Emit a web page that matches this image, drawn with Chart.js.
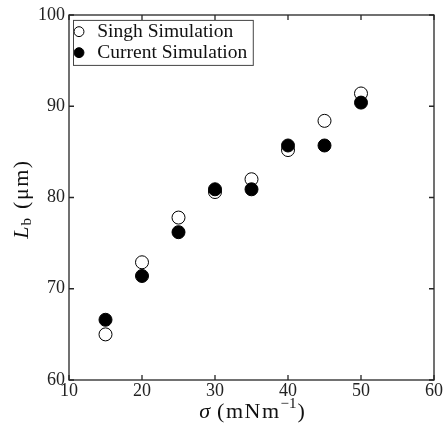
<!DOCTYPE html>
<html>
<head>
<meta charset="utf-8">
<script src="https://cdn.jsdelivr.net/npm/chart.js@4"></script>
<style>
html, body { margin: 0; padding: 0; background: #fff; }
</style>
</head>
<body>
<canvas id="chart" width="444" height="431"></canvas>
<script>
'use strict'

// surface tension (x)
const sigma = [15, 20, 25, 30, 35, 40, 45, 50];
// Singh simulation Lb
const singhLb = [65.0, 72.9, 77.8, 80.6, 82.0, 85.2, 88.4, 91.4];
// current simulation Lb
const currentLb = [66.6, 71.4, 76.2, 80.9, 80.9, 85.7, 85.7, 90.4];
// tick labels
const xTicks = [10, 20, 30, 40, 50, 60];
const yTicks = [60, 70, 80, 90, 100];

const serif = '"Liberation Serif", "DejaVu Serif", serif';
const axisColor = '#262626';

function toPoints(ys){
	return sigma.map((x, i) => ({ x: x, y: ys[i] }));
}

// box + inward ticks on all four sides
const frame = {
	id: 'frame',
	afterDraw(chart){
		const ctx = chart.ctx;
		const a = chart.chartArea;
		const xs = chart.scales.x;
		const ys = chart.scales.y;
		ctx.save();
		ctx.strokeStyle = axisColor;
		ctx.lineWidth = 1.3;
		ctx.strokeRect(a.left, a.top, a.right - a.left, a.bottom - a.top);
		ctx.beginPath();
		xTicks.forEach((v) => {
			const px = xs.getPixelForValue(v);
			ctx.moveTo(px, a.bottom); ctx.lineTo(px, a.bottom - 5);
			ctx.moveTo(px, a.top); ctx.lineTo(px, a.top + 5);
		});
		yTicks.forEach((v) => {
			const py = ys.getPixelForValue(v);
			ctx.moveTo(a.left, py); ctx.lineTo(a.left + 5, py);
			ctx.moveTo(a.right, py); ctx.lineTo(a.right - 5, py);
		});
		ctx.stroke();

		// legend border
		const boxes = chart.legend.legendHitBoxes;
		if(boxes && boxes.length){
			let l = Infinity, t = Infinity, r = -Infinity, b = -Infinity;
			boxes.forEach((h) => {
				l = Math.min(l, h.left); t = Math.min(t, h.top);
				r = Math.max(r, h.left + h.width); b = Math.max(b, h.top + h.height);
			});
			ctx.lineWidth = 1;
			ctx.strokeStyle = '#444';
			ctx.strokeRect(l + 3, t - 1.5, r - l + 3, b - t + 4.5);
		}
		ctx.restore();
	}
};

// draw a row of text pieces centred on (cx, cy)
function drawParts(ctx, parts, cx, cy){
	let w = 0;
	parts.forEach((p) => {
		ctx.font = p.f;
		ctx.letterSpacing = (p.ls || 0) + 'px';
		p.w = ctx.measureText(p.t).width + (p.gap || 0);
		w += p.w;
	});
	let x = cx - w / 2;
	parts.forEach((p) => {
		ctx.font = p.f;
		ctx.letterSpacing = (p.ls || 0) + 'px';
		ctx.fillText(p.t, x + (p.gap || 0), cy + p.dy);
		x += p.w;
	});
	ctx.letterSpacing = '0px';
}

// axis titles with sub/superscripts
const titles = {
	id: 'titles',
	afterDraw(chart){
		const ctx = chart.ctx;
		ctx.save();
		ctx.fillStyle = '#111';
		ctx.textBaseline = 'middle';

		// y title: L_b (μm)
		ctx.translate(22, 199);
		ctx.rotate(-Math.PI / 2);
		drawParts(ctx, [
			{ t: 'L', f: 'italic 22px ' + serif, dy: 0 },
			{ t: 'b', f: '15px ' + serif, dy: 5, gap: 1 },
			{ t: '(μm)', f: '22px ' + serif, dy: 0, gap: 9, ls: 1.5 }
		], 0, 0);
		ctx.setTransform(1, 0, 0, 1, 0, 0);

		// x title: σ (mNm^-1)
		drawParts(ctx, [
			{ t: 'σ', f: 'italic 22px ' + serif, dy: 0 },
			{ t: '(mNm', f: '22px ' + serif, dy: 0, gap: 7, ls: 1.5 },
			{ t: '−1', f: '15px ' + serif, dy: -8 },
			{ t: ')', f: '22px ' + serif, dy: 0, gap: 1 }
		], 252, 412);
		ctx.restore();
	}
};

new Chart(document.getElementById('chart'), {
	type: 'scatter',
	data: {
		datasets: [{
			label: 'Singh Simulation',
			data: toPoints(singhLb),
			pointStyle: 'circle',
			pointRadius: 6.5,
			pointBackgroundColor: '#fff',
			pointBorderColor: '#000',
			pointBorderWidth: 1,
			backgroundColor: '#fff',
			borderColor: '#000',
			order: 2
		}, {
			label: 'Current Simulation',
			data: toPoints(currentLb),
			pointStyle: 'circle',
			pointRadius: 6.5,
			pointBackgroundColor: '#000',
			pointBorderColor: '#000',
			pointBorderWidth: 1,
			backgroundColor: '#000',
			borderColor: '#000',
			order: 1
		}]
	},
	options: {
		responsive: false,
		animation: false,
		layout: { padding: { left: 0, top: 15, right: 10, bottom: 0 } },
		scales: {
			x: {
				type: 'linear',
				min: 10,
				max: 60,
				afterBuildTicks: (s) => { s.ticks = xTicks.map((v) => ({ value: v })); },
				afterFit: (s) => { s.height = 51; },
				grid: { display: false, drawTicks: false },
				border: { display: false },
				ticks: { color: '#222', padding: 0, maxRotation: 0, font: { family: serif, size: 18 } }
			},
			y: {
				type: 'linear',
				min: 60,
				max: 100,
				afterBuildTicks: (s) => { s.ticks = yTicks.map((v) => ({ value: v })); },
				afterFit: (s) => { s.width = 69; },
				grid: { display: false, drawTicks: false },
				border: { display: false },
				ticks: { color: '#222', padding: 4, font: { family: serif, size: 18 } }
			}
		},
		plugins: {
			legend: {
				position: 'chartArea',
				align: 'start',
				title: { display: true, text: ' ', font: { size: 2 }, padding: { top: 18, bottom: 0 } },
				labels: {
					usePointStyle: true,
					boxWidth: 17,
					boxHeight: 7,
					padding: 1.5,
					color: '#111',
					font: { family: serif, size: 19.5 },
					sort: (a, b) => a.datasetIndex - b.datasetIndex
				}
			},
			tooltip: { enabled: false }
		}
	},
	plugins: [frame, titles]
});
</script>
</body>
</html>
